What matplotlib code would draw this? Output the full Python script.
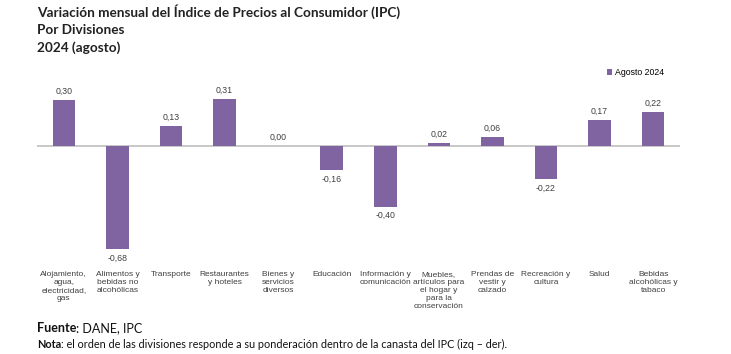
import matplotlib.pyplot as plt

categorias = [
    "Alojamiento,\nagua,\nelectricidad,\ngas",
    "Alimentos y\nbebidas no\nalcohólicas",
    "Transporte",
    "Restaurantes\ny hoteles",
    "Bienes y\nservicios\ndiversos",
    "Educación",
    "Información y\ncomunicación",
    "Muebles,\nartículos para\nel hogar y\npara la\nconservación",
    "Prendas de\nvestir y\ncalzado",
    "Recreación y\ncultura",
    "Salud",
    "Bebidas\nalcohólicas y\ntabaco",
]
variacion = [0.30, -0.68, 0.13, 0.31, 0.00, -0.16, -0.40, 0.02, 0.06, -0.22, 0.17, 0.22]
serie = "Agosto 2024"

color = "#8064A2"
W, H = 731, 354

fig = plt.figure(figsize=(W / 100, H / 100), dpi=100)
# axes: x 37..680 px, y 85..255 px (zero line at ~146)
ax = fig.add_axes([37 / W, 1 - 255 / H, (680 - 37) / W, (255 - 85) / H])

x = range(len(categorias))
ax.bar(x, variacion, width=0.42, color=color, label=serie, zorder=2)
ax.axhline(0, color="#BFBFBF", lw=1.2, zorder=1)
ax.set_xlim(-0.5, len(categorias) - 0.5)
ax.set_ylim(-0.717, 0.40)
ax.axis("off")

for xi, v in zip(x, variacion):
    txt = f"{v:.2f}".replace(".", ",")
    off, va = (3, "bottom") if v >= 0 else (-3, "top")
    ax.annotate(txt, (xi, v), xytext=(0, off), textcoords="offset points",
                ha="center", va=va, fontsize=6.3, family="Liberation Sans", color="#404040")

for xi, lab in zip(x, categorias):
    fig.text((37 + (xi + 0.5) * (680 - 37) / len(categorias)) / W, 1 - 271 / H, lab,
             ha="center", va="top", fontsize=6.0, family="Liberation Sans",
             color="#404040", linespacing=1.2)

ax.legend(loc="upper right", bbox_to_anchor=(672 / W, 1 - 60 / H),
          bbox_transform=fig.transFigure, frameon=False,
          handlelength=0.6, handleheight=0.6, handletextpad=0.3,
          prop={"family": "Liberation Sans", "size": 6.3})

titulo = "Variación mensual del Índice de Precios al Consumidor (IPC)\nPor Divisiones\n2024 (agosto)"
fig.text(37 / W, 1 - 4 / H, titulo, ha="left", va="top", fontsize=9.8,
         fontweight="bold", family="Lato", color="#222222", linespacing=1.5)

# footer: bold word followed by normal text
renderer = fig.canvas.get_renderer()
def pie(y, negrita, resto, size):
    t = fig.text(37 / W, 1 - y / H, negrita, ha="left", va="top", fontsize=size,
                 fontweight="bold", family="Lato", color="#111111")
    bb = t.get_window_extent(renderer)
    fig.text(bb.x1 / W, 1 - y / H, resto, ha="left", va="top", fontsize=size,
             family="Lato", color="#111111")

pie(322, "Fuente", ": DANE, IPC", 9)
pie(339, "Nota", ": el orden de las divisiones responde a su ponderación dentro de la canasta del IPC (izq – der).", 7.8)

fig.savefig("out.png", dpi=100)
